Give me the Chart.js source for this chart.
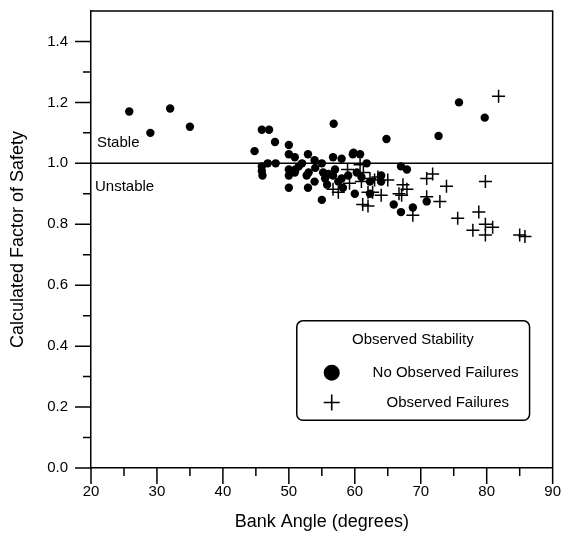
<!DOCTYPE html>
<html>
<head>
<meta charset="utf-8">
<script src="https://cdn.jsdelivr.net/npm/chart.js@4"></script>
<style>
  html, body { margin: 0; padding: 0; background: #fff; }
  canvas { display: block; }
</style>
</head>
<body>
<canvas id="c" width="562" height="542"></canvas>
<script>
// ---- Data ----
// No observed failures (filled circles): bank angle (deg), factor of safety
const noFailAngle = [25.8, 29.0, 32.0, 35.0, 44.8, 45.9, 47.0, 47.9, 50.0, 50.0, 50.9,
  45.9, 46.8, 48.0, 45.9, 46.0, 50.0, 51.0, 50.9, 50.0, 50.0, 52.9, 53.9, 55.0, 52.0,
  51.5, 52.7, 55.2, 56.0, 56.7, 55.8, 53.9, 52.9, 55.0, 56.7, 58.0, 59.7, 60.8, 61.8,
  58.0, 58.2, 60.0, 60.3, 61.0, 62.3, 62.3, 56.8, 59.8, 64.8, 67.0, 67.9, 64.0, 64.0,
  65.9, 67.0, 68.8, 70.9, 72.7, 75.8, 79.7, 57.0, 54.0, 53.0, 57.5, 59.0, 55.5];
const noFailFS = [1.17, 1.10, 1.18, 1.12, 1.04, 1.11, 1.11, 1.07, 1.06, 1.03, 1.02,
  0.99, 1.00, 1.00, 0.975, 0.96, 0.98, 0.98, 0.97, 0.96, 0.92, 1.03, 1.01, 1.00, 1.00,
  0.99, 0.96, 0.97, 0.965, 0.96, 0.93, 0.94, 0.92, 0.88, 1.02, 1.015, 1.03, 1.03, 1.00,
  0.95, 0.92, 0.90, 0.97, 0.955, 0.94, 0.90, 1.13, 1.035, 1.08, 0.99, 0.98, 0.96, 0.94,
  0.865, 0.84, 0.855, 0.875, 1.09, 1.20, 1.15, 0.98, 0.985, 0.97, 0.94, 0.96, 0.95];

// Observed failures (crosses)
const failAngle = [56.7, 57.5, 58.9, 59.2, 60.8, 61.0, 61.3, 62.0, 62.3, 61.2, 62.0,
  63.0, 62.7, 64.0, 65.0, 67.3, 67.9, 67.1, 66.7, 68.8, 70.9, 71.8, 73.9, 70.9, 72.9,
  75.6, 78.8, 77.9, 79.8, 80.9, 79.8, 85.0, 85.8, 79.8, 81.8, 63.5];
const failFS = [0.915, 0.905, 0.98, 0.935, 0.995, 0.94, 0.97, 0.905, 0.95, 0.865, 0.86,
  0.945, 0.905, 0.895, 0.945, 0.93, 0.915, 0.895, 0.90, 0.83, 0.95, 0.965, 0.925, 0.89, 0.875,
  0.82, 0.84, 0.78, 0.80, 0.79, 0.765, 0.765, 0.76, 0.94, 1.22, 0.955];

// Stable / unstable boundary
const boundaryAngle = [20, 90];
const boundaryFS = [1.0, 1.0];

// Axis ticks
const xMajorTicks = [20, 30, 40, 50, 60, 70, 80, 90];
const xMinorTicks = [25, 35, 45, 55, 65, 75, 85];
const yMajorTicks = [0.0, 0.2, 0.4, 0.6, 0.8, 1.0, 1.2, 1.4];
const yMinorTicks = [0.1, 0.3, 0.5, 0.7, 0.9, 1.1, 1.3];

const legendTitle = 'Observed Stability';
const seriesNames = ['No Observed Failures', 'Observed Failures'];
const regionLabels = ['Stable', 'Unstable'];

// ---- Build ----
const FONT = "Arial, 'Liberation Sans', Helvetica, sans-serif";
const toPts = (xs, ys) => xs.map((x, i) => ({ x: x, y: ys[i] }));

const decorPlugin = {
  id: 'decor',
  afterDraw(chart) {
    const ctx = chart.ctx;
    const xs = chart.scales.x, ys = chart.scales.y;
    const a = chart.chartArea;
    ctx.save();
    ctx.strokeStyle = '#000';
    ctx.fillStyle = '#000';
    // frame top & right
    ctx.lineWidth = 1.5;
    ctx.beginPath();
    ctx.moveTo(a.left, a.top); ctx.lineTo(a.right, a.top); ctx.lineTo(a.right, a.bottom);
    ctx.stroke();
    // ticks (major long, minor short, outward)
    ctx.lineWidth = 1.5;
    ctx.beginPath();
    xMajorTicks.forEach(v => { const p = xs.getPixelForValue(v); ctx.moveTo(p, a.bottom); ctx.lineTo(p, a.bottom + 16); });
    xMinorTicks.forEach(v => { const p = xs.getPixelForValue(v); ctx.moveTo(p, a.bottom); ctx.lineTo(p, a.bottom + 8); });
    yMajorTicks.forEach(v => { const p = ys.getPixelForValue(v); ctx.moveTo(a.left, p); ctx.lineTo(a.left - 16, p); });
    yMinorTicks.forEach(v => { const p = ys.getPixelForValue(v); ctx.moveTo(a.left, p); ctx.lineTo(a.left - 8, p); });
    ctx.stroke();

    // Stable / Unstable labels
    ctx.font = '15px ' + FONT;
    ctx.textAlign = 'left';
    ctx.textBaseline = 'middle';
    ctx.fillText(regionLabels[0], xs.getPixelForValue(20.9), ys.getPixelForValue(1.067));
    ctx.fillText(regionLabels[1], xs.getPixelForValue(20.6), ys.getPixelForValue(0.923));

    // Legend box
    const bx0 = xs.getPixelForValue(51.2), bx1 = xs.getPixelForValue(86.5);
    const by0 = ys.getPixelForValue(0.483), by1 = ys.getPixelForValue(0.157);
    ctx.lineWidth = 1.5;
    ctx.beginPath();
    if (ctx.roundRect) ctx.roundRect(bx0, by0, bx1 - bx0, by1 - by0, 6);
    else ctx.rect(bx0, by0, bx1 - bx0, by1 - by0);
    ctx.stroke();
    ctx.font = '15px ' + FONT;
    ctx.textAlign = 'center';
    ctx.fillText(legendTitle, xs.getPixelForValue(68.8), ys.getPixelForValue(0.421));
    // circle marker
    const cx = xs.getPixelForValue(56.5);
    const cy1 = ys.getPixelForValue(0.313), cy2 = ys.getPixelForValue(0.215);
    ctx.beginPath(); ctx.arc(cx, cy1, 8, 0, Math.PI * 2); ctx.fill();
    // cross marker
    ctx.lineWidth = 1.6;
    ctx.beginPath();
    ctx.moveTo(cx - 8, cy2); ctx.lineTo(cx + 8, cy2);
    ctx.moveTo(cx, cy2 - 8); ctx.lineTo(cx, cy2 + 8);
    ctx.stroke();
    ctx.textAlign = 'left';
    ctx.fillText(seriesNames[0], xs.getPixelForValue(62.7), cy1);
    ctx.fillText(seriesNames[1], xs.getPixelForValue(64.8), cy2);
    ctx.restore();
  }
};

new Chart(document.getElementById('c'), {
  type: 'scatter',
  data: {
    datasets: [
      {
        label: seriesNames[0],
        data: toPts(noFailAngle, noFailFS),
        pointStyle: 'circle',
        pointRadius: 4.2,
        backgroundColor: '#000',
        borderWidth: 0
      },
      {
        label: seriesNames[1],
        data: toPts(failAngle, failFS),
        pointStyle: 'cross',
        pointRadius: 6.5,
        borderColor: '#000',
        borderWidth: 1.5
      },
      {
        type: 'line',
        label: 'boundary',
        data: toPts(boundaryAngle, boundaryFS),
        borderColor: '#000',
        borderWidth: 1.5,
        pointRadius: 0,
        fill: false
      }
    ]
  },
  options: {
    responsive: false,
    animation: false,
    devicePixelRatio: 1,
    layout: { padding: { left: 3, right: 9, top: 10, bottom: 0 } },
    plugins: { legend: { display: false }, tooltip: { enabled: false } },
    scales: {
      x: {
        type: 'linear', min: 20, max: 90,
        grid: { display: true, drawOnChartArea: false, drawTicks: true, tickLength: 14, tickColor: 'rgba(0,0,0,0)' },
        border: { display: true, color: '#000', width: 1.5 },
        ticks: {
          stepSize: 10, autoSkip: false, maxRotation: 0, padding: 1,
          color: '#000', font: { family: FONT, size: 15 },
          callback: v => String(v)
        },
        title: { display: true, text: 'Bank Angle (degrees)', color: '#000',
          font: { family: FONT, size: 18 }, padding: { top: 4, bottom: 9 } },
        afterFit: s => { s.height = 74; }
      },
      y: {
        type: 'linear', min: 0, max: 1.5,
        grid: { display: true, drawOnChartArea: false, drawTicks: true, tickLength: 21, tickColor: 'rgba(0,0,0,0)' },
        border: { display: true, color: '#000', width: 1.5 },
        ticks: {
          stepSize: 0.1, autoSkip: false, padding: 2,
          color: '#000', font: { family: FONT, size: 15 },
          callback: v => {
            const t = Math.round(v * 10);
            return (t % 2 === 0 && t <= 14) ? (t / 10).toFixed(1) : '';
          }
        },
        title: { display: true, text: 'Calculated Factor of Safety', color: '#000',
          font: { family: FONT, size: 18 }, padding: { top: 4, bottom: 4 } },
        afterFit: s => { s.width = 88; }
      }
    }
  },
  plugins: [decorPlugin]
});
</script>
</body>
</html>
